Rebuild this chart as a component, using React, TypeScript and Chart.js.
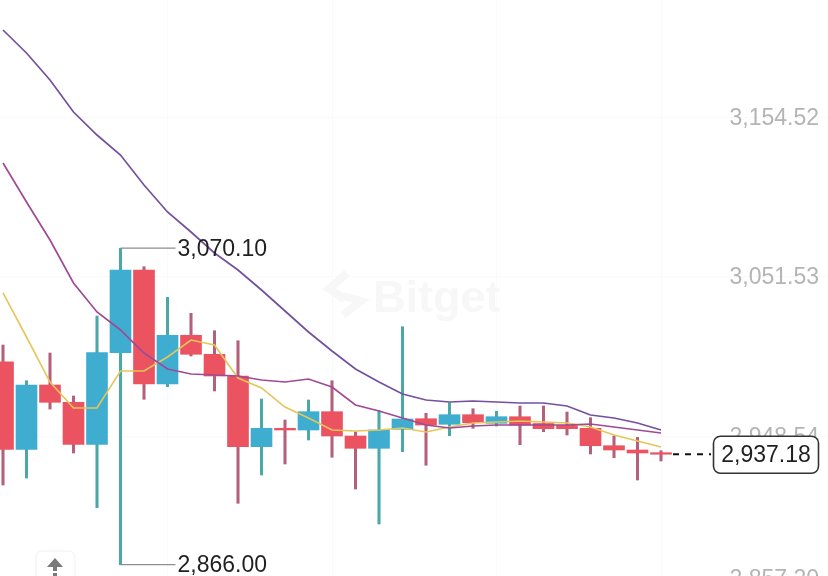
import React, { useEffect, useRef } from "react";
import { Chart, registerables } from "chart.js";

Chart.register(...registerables);

const opens = [2996.88, 2940.37, 2981.85, 2970.69, 2943.59, 3002.69, 3056.05, 2982.5, 3013.92, 3001.66, 2987.66, 2942.05, 2953.92, 2952.82, 2964.63, 2948.95, 2941.01, 2953.27, 2960.11, 2956.5, 2962.69, 2957.14, 2961.4, 2957.01, 2955.85, 2953.92, 2942.69, 2939.92, 2938.18];
const closes = [2940.37, 2981.85, 2970.69, 2943.59, 3002.69, 3056.05, 2982.5, 3013.92, 3001.66, 2987.66, 2942.05, 2953.92, 2952.82, 2964.63, 2948.95, 2941.01, 2952.82, 2959.92, 2956.05, 2962.69, 2957.53, 2961.4, 2956.05, 2953.66, 2953.66, 2942.69, 2939.92, 2937.98, 2937.18];
const highs = [3007.66, 2984.63, 3002.5, 2974.76, 3026.37, 3070.1, 3058.18, 3038.43, 3028.11, 3016.88, 3010.43, 2972.82, 2959.27, 2972.18, 2984.63, 2951.53, 2965.27, 3019.47, 2963.59, 2970.43, 2966.56, 2964.88, 2968.3, 2968.3, 2964.43, 2960.76, 2948.95, 2948.11, 2939.47];
const lows = [2917.34, 2921.85, 2966.37, 2937.98, 2902.69, 2866.0, 2972.63, 2980.76, 3000.56, 2977.98, 2905.53, 2923.79, 2930.88, 2946.37, 2935.21, 2914.76, 2892.18, 2938.82, 2930.05, 2949.14, 2953.92, 2955.4, 2943.34, 2951.72, 2949.59, 2937.34, 2934.95, 2920.56, 2932.82];
const maLong = [3210.88, 3196.05, 3178.63, 3157.98, 3143.14, 3130.24, 3110.88, 3093.47, 3080.56, 3067.01, 3056.05, 3043.14, 3029.59, 3016.05, 3003.79, 2992.18, 2983.79, 2976.05, 2972.18, 2970.88, 2971.53, 2970.88, 2970.24, 2970.24, 2968.3, 2962.5, 2960.56, 2957.34, 2952.82];
const maMid = [3125.08, 3099.92, 3075.4, 3047.66, 3028.95, 3017.34, 3002.5, 2992.18, 2988.95, 2988.3, 2987.66, 2985.08, 2983.79, 2985.72, 2980.56, 2968.95, 2965.08, 2960.56, 2956.05, 2954.11, 2955.4, 2956.05, 2956.05, 2956.05, 2956.05, 2956.69, 2954.76, 2952.82, 2950.88];
const maShort = [3041.21, 3012.82, 2983.79, 2967.01, 2967.01, 2990.88, 2990.88, 2999.92, 3010.88, 3007.66, 2986.37, 2979.92, 2967.66, 2960.56, 2952.82, 2952.18, 2952.82, 2954.11, 2951.53, 2954.76, 2957.34, 2957.98, 2958.63, 2957.98, 2957.34, 2954.76, 2949.59, 2945.72, 2941.85];
const yTicks = [3154.52, 3051.53, 2948.54, 2857.2];
const yTickLabels = ["3,154.52", "3,051.53", "2,948.54", "2,857.20"];
const gridCandles = [7, 14, 21, 28];
const peakIndex = 5;
const peakLabel = "3,070.10";
const troughLabel = "2,866.00";
const lastLabel = "2,937.18";
const watermark = "Bitget";

const FONT = "'Liberation Sans', Arial, sans-serif";
const indices = opens.map((_, i) => i);
const isUp = (i: number) => closes[i] >= opens[i];
const wick = (keep: (i: number) => boolean) =>
  indices.filter(keep).map((i) => ({ x: i, y: [lows[i], highs[i]] }));
const body = (keep: (i: number) => boolean) =>
  indices.filter(keep).map((i) => ({ x: i, y: [opens[i], closes[i]] }));
const line = (vals: number[]) => vals.map((v, i) => ({ x: i, y: v }));

const overlay = {
  id: "overlay",
  afterDatasetsDraw(chart: any) {
    const { ctx, scales } = chart;
    const x = scales.x;
    const y = scales.y;
    ctx.save();

    // watermark
    ctx.strokeStyle = "#f7f7f7";
    ctx.lineWidth = 8;
    ctx.beginPath();
    ctx.moveTo(347, 273);
    ctx.lineTo(329, 289);
    ctx.lineTo(345, 299);
    ctx.moveTo(343, 296);
    ctx.lineTo(361, 301);
    ctx.lineTo(343, 315);
    ctx.stroke();
    ctx.fillStyle = "#f7f7f7";
    ctx.font = `bold 45px ${FONT}`;
    ctx.textAlign = "left";
    ctx.textBaseline = "middle";
    ctx.fillText(watermark, 373, 300);

    // price axis labels
    ctx.fillStyle = "#b4b4b4";
    ctx.font = `23px ${FONT}`;
    ctx.textAlign = "right";
    yTicks.forEach((v, i) => ctx.fillText(yTickLabels[i], 819, y.getPixelForValue(v) + 1));

    // high and low leaders
    const px = x.getPixelForValue(peakIndex);
    const hy = y.getPixelForValue(highs[peakIndex]);
    const ly = y.getPixelForValue(lows[peakIndex]);
    ctx.strokeStyle = "#8a8f90";
    ctx.lineWidth = 1.2;
    ctx.beginPath();
    ctx.moveTo(px, hy);
    ctx.lineTo(px + 55, hy);
    ctx.moveTo(px, ly);
    ctx.lineTo(px + 55, ly);
    ctx.stroke();
    ctx.fillStyle = "#1f1f1f";
    ctx.textAlign = "left";
    ctx.fillText(peakLabel, px + 57, hy + 1.5);
    ctx.fillText(troughLabel, px + 57, ly + 1.5);

    // last price
    const lastY = y.getPixelForValue(closes[closes.length - 1]);
    const lastX = x.getPixelForValue(closes.length - 1);
    ctx.strokeStyle = "#111";
    ctx.lineWidth = 2;
    ctx.setLineDash([6, 6]);
    ctx.beginPath();
    ctx.moveTo(lastX + 12, lastY);
    ctx.lineTo(711, lastY);
    ctx.stroke();
    ctx.setLineDash([]);
    ctx.beginPath();
    ctx.roundRect(713.5, lastY - 18, 105, 37, 7);
    ctx.fillStyle = "#ffffff";
    ctx.fill();
    ctx.strokeStyle = "#333";
    ctx.lineWidth = 1.6;
    ctx.stroke();
    ctx.fillStyle = "#1f1f1f";
    ctx.textAlign = "center";
    ctx.fillText(lastLabel, 766, lastY + 1.5);

    // scroll-to-top button
    ctx.beginPath();
    ctx.roundRect(36, 551, 39, 40, 6);
    ctx.fillStyle = "#ffffff";
    ctx.fill();
    ctx.strokeStyle = "#f1f1f1";
    ctx.lineWidth = 1;
    ctx.stroke();
    ctx.fillStyle = "#7a7a7a";
    ctx.beginPath();
    ctx.moveTo(55, 558);
    ctx.lineTo(63, 567);
    ctx.lineTo(47, 567);
    ctx.closePath();
    ctx.fill();
    ctx.fillRect(53, 567, 4, 4);
    ctx.fillRect(53, 573, 4, 3);
    ctx.restore();
  },
};

export default function App() {
  const ref = useRef<HTMLCanvasElement>(null);
  useEffect(() => {
    const cfg: any = {
      type: "bar",
      data: {
        datasets: [
          { type: "line", data: line(maLong), borderColor: "#74509f", borderWidth: 1.7, pointRadius: 0, tension: 0, order: 0 },
          { type: "line", data: line(maMid), borderColor: "#a04a95", borderWidth: 1.7, pointRadius: 0, tension: 0, order: 0 },
          { type: "line", data: line(maShort), borderColor: "#e6c558", borderWidth: 1.6, pointRadius: 0, tension: 0, order: 0 },
          { data: body((i) => isUp(i)), backgroundColor: "#3fadcf", barThickness: 21, grouped: false, order: 1 },
          { data: body((i) => !isUp(i)), backgroundColor: "#ec5361", barThickness: 21, grouped: false, order: 1 },
          { data: wick((i) => isUp(i)), backgroundColor: "#4aa9a8", barThickness: 2.4, grouped: false, order: 2 },
          { data: wick((i) => !isUp(i)), backgroundColor: "#b5607a", barThickness: 2.4, grouped: false, order: 2 },
        ],
      },
      options: {
        responsive: false,
        animation: false,
        layout: { padding: 0 },
        plugins: { legend: { display: false }, title: { display: false }, tooltip: { enabled: false } },
        scales: {
          x: {
            type: "linear",
            offset: false,
            min: -3 / 23.5,
            max: 825 / 23.5,
            afterBuildTicks: (s: any) => {
              s.ticks = gridCandles.map((v) => ({ value: v }));
            },
            ticks: { display: false },
            border: { display: false },
            grid: { color: "#fafafa", drawTicks: false, offset: false },
          },
          y: {
            type: "linear",
            position: "right",
            min: 3051.53 - 323 / 1.55,
            max: 3051.53 + 277 / 1.55,
            afterBuildTicks: (s: any) => {
              s.ticks = yTicks.map((v) => ({ value: v }));
            },
            ticks: { display: false },
            border: { display: false },
            grid: { color: "#fafafa", drawTicks: false },
          },
        },
      },
      plugins: [overlay],
    };
    const chart = new Chart(ref.current as HTMLCanvasElement, cfg);
    return () => chart.destroy();
  }, []);
  return (
    <div style={{ position: "absolute", left: 0, top: 0, width: 828, height: 576, overflow: "hidden", background: "#fff" }}>
      <canvas ref={ref} width={828} height={600} style={{ display: "block", width: 828, height: 600 }} />
    </div>
  );
}
